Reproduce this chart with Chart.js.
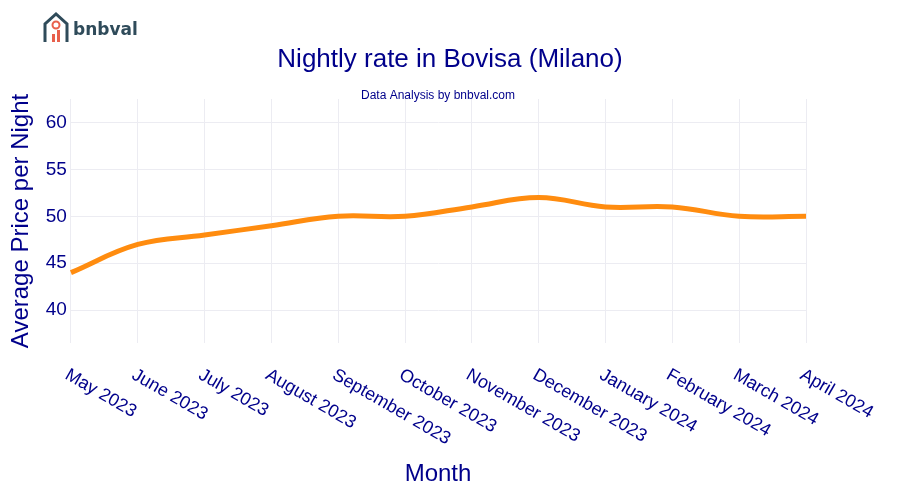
<!DOCTYPE html>
<html><head><meta charset="utf-8">
<script src="https://cdn.jsdelivr.net/npm/chart.js@4"></script>
<style>html,body{margin:0;padding:0;background:#fff}#w{width:900px;height:500px}</style>
</head><body><div id="w"><canvas id="c"></canvas></div>
<script>
const months=["May 2023","June 2023","July 2023","August 2023","September 2023","October 2023","November 2023","December 2023","January 2024","February 2024","March 2024","April 2024"];
const prices=[44,47,48,49,50,50,51,52,51,51,50,50];
const yTicks=[40,45,50,55,60];
const navy='#00008b';
const F='"Liberation Sans", Arial, sans-serif';
const deco={id:'deco',afterDraw(ch){
 const c=ch.ctx,x=ch.scales.x;c.save();
 c.fillStyle=navy;c.font='18px '+F;c.textAlign='left';c.textBaseline='top';
 months.forEach((m,i)=>{const px=x.getPixelForValue(i);c.save();c.translate(px,366);c.rotate(Math.PI/6);c.fillText(m,0,0);c.restore();});
 c.textAlign='center';c.textBaseline='middle';
 c.font='24px '+F;c.fillText('Month',438,474);
 c.font='26px '+F;c.fillText('Nightly rate in Bovisa (Milano)',450,60);
 c.font='12px '+F;c.fillText('Data Analysis by bnbval.com',438,96);
 // logo
 c.strokeStyle='#2f4b5a';c.lineWidth=3;c.beginPath();c.moveTo(45,42);c.lineTo(45,24);c.lineTo(56,14);c.lineTo(67,24);c.lineTo(67,42);c.stroke();
 c.fillStyle='#e8604c';c.fillRect(52,34,3,8);c.fillRect(57,30,3,12);c.beginPath();c.arc(56,25,3.5,0,7);c.strokeStyle='#e8604c';c.lineWidth=2;c.stroke();
 c.fillStyle='#2f4b5a';c.font='bold 17px "DejaVu Sans", sans-serif';c.textAlign='left';c.fillText('bnbval',73,31);
 c.restore();}};
new Chart(document.getElementById('c'),{type:'line',
 data:{labels:months,datasets:[{data:prices,borderColor:'#ff8c0f',borderWidth:5,pointRadius:0,tension:0.4,fill:false}]},
 options:{responsive:true,maintainAspectRatio:false,animation:false,
  layout:{padding:{left:3,right:94,top:99,bottom:157}},
  plugins:{legend:{display:false},tooltip:{enabled:false},title:{display:false}},
  scales:{
   x:{type:'category',offset:false,grid:{color:'#ececf2',drawTicks:false},border:{display:false},ticks:{display:false}},
   y:{min:36.5,max:62.5,afterBuildTicks(s){s.ticks=yTicks.map(v=>({value:v}));},
    grid:{color:'#ececf2',drawTicks:false},border:{display:false},
    ticks:{color:navy,font:{family:F,size:19},padding:4},
    title:{display:true,text:'Average Price per Night',color:navy,font:{family:F,size:24},padding:{bottom:6}}}}}
 ,plugins:[deco]});
</script></body></html>
